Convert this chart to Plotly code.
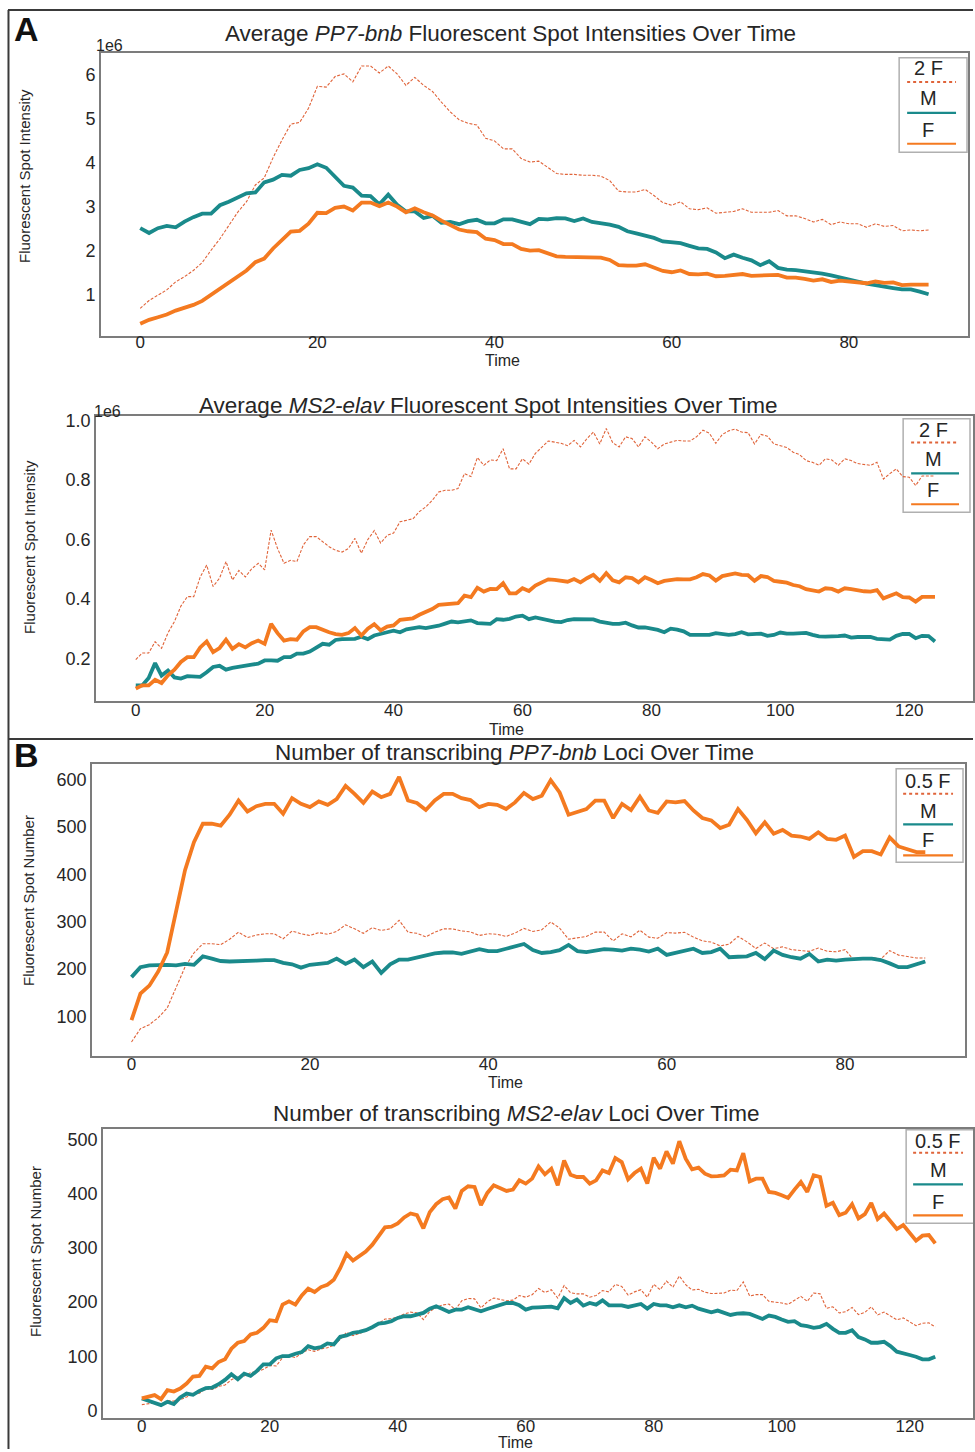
import plotly.graph_objects as go

W, H = 975, 1452

# ---------------- data ----------------
TIME_PP7 = list(range(90))
TIME_MS2 = list(range(125))

# Average PP7-bnb fluorescent spot intensity (units of 1e6)
PP7_INT_F = [0.35, 0.44, 0.50, 0.56, 0.65, 0.71, 0.78, 0.87, 1.01, 1.14,
             1.29, 1.44, 1.56, 1.75, 1.83, 2.06, 2.26, 2.44, 2.46, 2.62,
             2.87, 2.86, 2.98, 3.01, 2.92, 3.10, 3.10, 3.02, 3.10, 3.01,
             2.88, 2.97, 2.88, 2.81, 2.69, 2.58, 2.49, 2.45, 2.43, 2.28,
             2.25, 2.16, 2.16, 2.05, 2.01, 2.02, 1.95, 1.88, 1.87, 1.87,
             1.86, 1.86, 1.85, 1.80, 1.68, 1.67, 1.67, 1.70, 1.63, 1.55,
             1.52, 1.56, 1.48, 1.47, 1.49, 1.43, 1.44, 1.45, 1.48, 1.44,
             1.44, 1.44, 1.46, 1.40, 1.40, 1.37, 1.33, 1.36, 1.30, 1.33,
             1.31, 1.31, 1.27, 1.31, 1.28, 1.29, 1.23, 1.24, 1.23, 1.24]
PP7_INT_M = [2.52, 2.41, 2.52, 2.57, 2.54, 2.67, 2.77, 2.85, 2.85, 3.04,
             3.12, 3.22, 3.31, 3.33, 3.56, 3.62, 3.73, 3.71, 3.84, 3.88,
             3.97, 3.89, 3.69, 3.48, 3.44, 3.26, 3.25, 3.06, 3.28, 3.05,
             2.90, 2.90, 2.75, 2.80, 2.64, 2.66, 2.61, 2.68, 2.71, 2.63,
             2.63, 2.72, 2.72, 2.67, 2.61, 2.73, 2.72, 2.75, 2.74, 2.68,
             2.74, 2.66, 2.64, 2.60, 2.55, 2.45, 2.40, 2.35, 2.30, 2.22,
             2.19, 2.18, 2.12, 2.06, 2.05, 1.97, 1.84, 1.92, 1.85, 1.79,
             1.68, 1.77, 1.62, 1.58, 1.57, 1.55, 1.53, 1.49, 1.45, 1.41,
             1.37, 1.31, 1.26, 1.22, 1.19, 1.16, 1.13, 1.13, 1.08, 1.02]

# Average MS2-elav fluorescent spot intensity (units of 1e6)
MS2_INT_F = [0.098, 0.109, 0.109, 0.128, 0.117, 0.143, 0.162, 0.188, 0.204, 0.204,
             0.237, 0.257, 0.221, 0.235, 0.263, 0.232, 0.248, 0.237, 0.251, 0.260,
             0.249, 0.316, 0.285, 0.260, 0.265, 0.263, 0.291, 0.305, 0.305, 0.296,
             0.288, 0.282, 0.279, 0.285, 0.302, 0.277, 0.300, 0.315, 0.294, 0.307,
             0.311, 0.330, 0.333, 0.335, 0.347, 0.355, 0.366, 0.380, 0.383, 0.383,
             0.386, 0.411, 0.406, 0.438, 0.425, 0.434, 0.433, 0.453, 0.419, 0.419,
             0.436, 0.427, 0.445,
             0.456, 0.466, 0.464, 0.462, 0.458, 0.467, 0.456, 0.470, 0.481, 0.461,
             0.487, 0.463, 0.456, 0.473, 0.470, 0.456, 0.473, 0.464, 0.453, 0.461,
             0.464, 0.467, 0.466, 0.466, 0.473, 0.484, 0.479, 0.462, 0.477, 0.483,
             0.486, 0.481, 0.480, 0.461, 0.477, 0.474, 0.461, 0.458, 0.455, 0.447,
             0.443, 0.433, 0.430, 0.425, 0.436, 0.434, 0.425, 0.436, 0.433, 0.428,
             0.426, 0.425, 0.430, 0.402, 0.411, 0.419, 0.406, 0.405, 0.391, 0.407,
             0.407, 0.407]
MS2_INT_M = [0.109, 0.109, 0.134, 0.184, 0.142, 0.159, 0.136, 0.132, 0.140, 0.138,
             0.138, 0.153, 0.171, 0.175, 0.162, 0.168, 0.172, 0.178, 0.179, 0.182,
             0.193, 0.193, 0.192, 0.204, 0.204, 0.216, 0.216, 0.223, 0.235, 0.249,
             0.246, 0.262, 0.265, 0.265, 0.266, 0.273, 0.265, 0.277, 0.284, 0.288,
             0.293, 0.288, 0.298, 0.301, 0.305, 0.302, 0.305, 0.310, 0.317, 0.324,
             0.321, 0.324, 0.328, 0.319, 0.316, 0.316, 0.332, 0.330, 0.333, 0.341,
             0.344, 0.332, 0.338,
             0.333, 0.329, 0.324, 0.322, 0.329, 0.332, 0.332, 0.332, 0.331, 0.324,
             0.319, 0.316, 0.316, 0.320, 0.311, 0.304, 0.304, 0.300, 0.296, 0.288,
             0.300, 0.297, 0.291, 0.279, 0.279, 0.279, 0.279, 0.285, 0.283, 0.279,
             0.282, 0.288, 0.281, 0.282, 0.283, 0.276, 0.279, 0.287, 0.283, 0.283,
             0.286, 0.286, 0.279, 0.274, 0.273, 0.273, 0.275, 0.277, 0.270, 0.272,
             0.273, 0.272, 0.266, 0.265, 0.263, 0.276, 0.282, 0.282, 0.268, 0.276,
             0.275, 0.257]

# Number of transcribing PP7-bnb loci
PP7_NUM_F = [92, 148, 165, 195, 235, 325, 409, 468, 507, 507,
             503, 526, 556, 533, 544, 549, 549, 528, 561, 549,
             542, 554, 547, 559, 587, 570, 551, 575, 563, 570,
             606, 556, 551, 536, 556, 570, 570, 561, 557, 542,
             549, 547, 538, 552, 572, 559, 566, 599, 573, 526,
             532, 538, 556, 556, 519, 549, 536, 564, 535, 530,
             554, 552, 555, 535, 519, 514, 498, 505, 538, 515,
             487, 510, 486, 494, 482, 480, 475, 489, 475, 473,
             482, 437, 449, 449, 442, 478, 459, 453, 447, 447]
PP7_NUM_M = [183, 204, 208, 209, 209, 208, 211, 209, 227, 222,
             217, 216, 216, 218, 218, 219, 219, 213, 210, 203,
             209, 211, 213, 222, 211, 220, 204, 216, 192, 210,
             220, 220, 225, 229, 233, 235, 235, 232, 237, 242,
             238, 238, 243, 248, 253, 240, 234, 236, 240, 251,
             238, 236, 240, 242, 241, 239, 243, 241, 237, 243,
             230, 234, 237, 243, 234, 236, 243, 225, 226, 227,
             234, 221, 239, 230, 225, 222, 232, 216, 220, 218,
             220, 222, 222, 222, 219, 212, 204, 204, 209, 216]

# Number of transcribing MS2-elav loci
MS2_NUM_F = [22.6, 26.3, 28.7, 21.4, 37.9, 35.4, 40.9, 50.1, 62.9, 64.1,
             81.2, 78.1, 89.7, 94.6, 114.2, 125.2, 128.2, 140.4, 143.5, 152.6,
             166.7, 164.8, 195.4, 201.5, 195.4, 212.5, 224.7, 218.6, 227.7, 232.0,
             241.1, 262.5, 288.8, 276.6, 285.7, 293.0, 305.3, 320.5, 337.6, 338.8,
             344.9, 355.9, 363.2, 360.2, 335.8, 365.7, 380.3, 389.5, 392.6, 372.4,
             404.8, 413.3, 412.1, 378.5, 401.1, 415.1, 409.0, 404.8, 407.2, 424.3,
             418.2, 427.4, 450.0,
             435.3, 445.7, 415.1, 460.9, 434.7, 430.4, 430.4, 418.2, 424.3, 442.6,
             437.7, 465.2, 457.9, 426.1, 437.7, 445.7, 418.2, 465.8, 445.7, 477.4,
             454.8, 496.3, 464.0, 444.4, 447.5, 436.5, 431.6, 432.2, 433.5, 443.8,
             442.6, 474.4, 422.5, 427.4, 427.4, 402.9, 401.1, 396.8, 391.9, 407.2,
             421.2, 402.9, 433.5, 430.4, 377.3, 382.8, 360.2, 364.5, 380.3, 354.1,
             362.0, 382.8, 352.9, 363.2, 349.2, 334.6, 341.9, 327.8, 313.2, 322.3,
             323.6, 308.3]
MS2_NUM_M = [22.6, 18.3, 14.0, 10.4, 16.5, 12.2, 24.4, 31.7, 29.3, 36.6,
             41.5, 42.7, 48.8, 56.8, 67.2, 58.0, 68.4, 64.1, 73.3, 85.5,
             85.5, 96.5, 100.7, 100.7, 105.0, 108.1, 119.0, 114.8, 117.2, 123.9,
             122.1, 136.1, 138.6, 143.5, 145.3, 148.4, 153.8, 160.6, 161.8, 164.8,
             170.9, 174.0, 174.0, 177.0, 180.1, 188.0, 192.3, 187.4, 181.9, 186.2,
             186.2, 190.5, 187.4, 183.2, 187.4, 190.5, 195.4, 198.4, 198.4, 194.1,
             186.2, 189.9, 190.5,
             191.1, 191.7, 188.6, 207.6, 198.4, 204.5, 193.5, 198.4, 195.4, 203.3,
             194.1, 194.1, 194.1, 191.1, 193.5, 196.6, 188.0, 196.6, 194.1, 194.1,
             190.5, 194.1, 190.5, 193.5, 188.0, 185.0, 181.3, 184.4, 180.1, 176.4,
             178.9, 179.5, 178.3, 174.0, 169.1, 175.2, 172.8, 167.9, 163.6, 164.8,
             157.5, 155.7, 152.6, 154.5, 160.0, 150.8, 143.5, 143.5, 148.4, 135.5,
             131.3, 125.2, 125.2, 127.0, 119.0, 108.7, 105.0, 102.6, 99.5, 94.6,
             94.6, 99.5]

# scaled-F comparison series, as named in each legend ("2 F", "0.5 F")
SCALE_INT = 2.0
SCALE_NUM = 0.5

TITLES = ["Average <i>PP7-bnb</i> Fluorescent Spot Intensities Over Time",
          "Average <i>MS2-elav</i> Fluorescent Spot Intensities Over Time",
          "Number of transcribing <i>PP7-bnb</i> Loci Over Time",
          "Number of transcribing <i>MS2-elav</i> Loci Over Time"]
Y_LABELS = ["Fluorescent Spot Intensity", "Fluorescent Spot Intensity",
            "Fluorescent Spot Number", "Fluorescent Spot Number"]
X_LABEL = "Time"
LEGEND_LABELS = [["2 F", "M", "F"], ["2 F", "M", "F"],
                 ["0.5 F", "M", "F"], ["0.5 F", "M", "F"]]

# ---------------- styling ----------------
TEAL = "#1a8a8b"
ORANGE = "#f47a20"
DOTC = "#e0643a"
FONT = "Liberation Sans, Arial, Helvetica, sans-serif"
TXT = "#262626"
SPINE = "#7c7c7c"


def pxx(x):
    return x / W


def pxy(y):
    return 1 - y / H


panels = [
    dict(t=TIME_PP7, F=PP7_INT_F, M=PP7_INT_M, s=SCALE_INT,
         box=(101, 48, 970, 333), xr=[-4.45, 93.45], yr=[0.07, 6.5],
         xt=[0, 20, 40, 60, 80], yt=[1, 2, 3, 4, 5, 6], ytt=None, so=-10,
         title_xy=(512, 29), xlab_xy=(504, 357), ylab_xy=(24, 172), off_xy=(110, 41),
         leg=(901, 53, 969, 148), leg_cx=930, leg_rows=[63.5, 77.5, 93.5, 108.5, 125.5, 139.5], leg_line=(909, 958)),
    dict(t=TIME_MS2, F=MS2_INT_F, M=MS2_INT_M, s=SCALE_INT,
         box=(96, 413, 975, 700), xr=[-6.2, 129.9], yr=[0.056, 1.017],
         xt=[0, 20, 40, 60, 80, 100, 120], yt=[0.2, 0.4, 0.6, 0.8, 1.0],
         ytt=["0.2", "0.4", "0.6", "0.8", "1.0"], so=-7,
         title_xy=(490, 403), xlab_xy=(508, 729), ylab_xy=(30, 545), off_xy=(108, 409),
         leg=(905, 416, 972, 510), leg_cx=935, leg_rows=[427, 440, 457, 471, 488, 502], leg_line=(913, 961)),
    dict(t=TIME_PP7, F=PP7_NUM_F, M=PP7_NUM_M, s=SCALE_NUM,
         box=(92, 763, 967, 1057), xr=[-4.45, 93.45], yr=[16, 633.6],
         xt=[0, 20, 40, 60, 80], yt=[100, 200, 300, 400, 500, 600], ytt=None, so=-8,
         title_xy=(516, 752), xlab_xy=(507, 1083), ylab_xy=(28, 900), off_xy=None,
         leg=(898, 768, 965, 862), leg_cx=930, leg_rows=[780, 793, 810, 824, 840, 855], leg_line=(905, 955)),
    dict(t=TIME_MS2, F=MS2_NUM_F, M=MS2_NUM_M, s=SCALE_NUM,
         box=(103, 1130, 975, 1421), xr=[-6.1, 129.9], yr=[-13.7, 519.2],
         xt=[0, 20, 40, 60, 80, 100, 120], yt=[0, 100, 200, 300, 400, 500], ytt=None, so=-8,
         title_xy=(517, 1115), xlab_xy=(517, 1445), ylab_xy=(35, 1253), off_xy=None,
         leg=(908, 1131, 980, 1225), leg_cx=940, leg_rows=[1142, 1154, 1171, 1186, 1204, 1217], leg_line=(915, 965)),
]

fig = go.Figure()
shapes = []
annotations = []
layout_axes = {}

for k, p in enumerate(panels, start=1):
    xa = "x" if k == 1 else f"x{k}"
    ya = "y" if k == 1 else f"y{k}"
    scaled = [p["s"] * v for v in p["F"]]
    fig.add_trace(go.Scatter(x=p["t"], y=scaled, mode="lines", xaxis=xa, yaxis=ya,
                             line=dict(color=DOTC, width=1.1, dash="3px,1.6px"),
                             showlegend=False, hoverinfo="skip"))
    fig.add_trace(go.Scatter(x=p["t"], y=p["M"], mode="lines", xaxis=xa, yaxis=ya,
                             line=dict(color=TEAL, width=3.8),
                             showlegend=False, hoverinfo="skip"))
    fig.add_trace(go.Scatter(x=p["t"], y=p["F"], mode="lines", xaxis=xa, yaxis=ya,
                             line=dict(color=ORANGE, width=3.8),
                             showlegend=False, hoverinfo="skip"))

    l, t, r, b = p["box"]
    xkey = "xaxis" if k == 1 else f"xaxis{k}"
    ykey = "yaxis" if k == 1 else f"yaxis{k}"
    layout_axes[xkey] = dict(domain=[pxx(l), min(pxx(r), 1.0)], range=p["xr"], anchor=ya,
                             tickvals=p["xt"], ticks="", showgrid=False, zeroline=False,
                             showline=True, mirror=True, linecolor=SPINE, linewidth=1.5,
                             ticklabelstandoff=p["so"],
                             tickfont=dict(family=FONT, size=17, color=TXT))
    ydict = dict(domain=[pxy(b), pxy(t)], range=p["yr"], anchor=xa,
                 tickvals=p["yt"], ticks="", showgrid=False, zeroline=False,
                 showline=True, mirror=True, linecolor=SPINE, linewidth=1.5,
                 tickfont=dict(family=FONT, size=18, color=TXT))
    if p["ytt"]:
        ydict["ticktext"] = p["ytt"]
    layout_axes[ykey] = ydict

    # titles and axis labels
    annotations.append(dict(text=TITLES[k - 1], x=pxx(p["title_xy"][0]), y=pxy(p["title_xy"][1]),
                            xref="paper", yref="paper", showarrow=False, xanchor="center", yanchor="middle",
                            font=dict(family=FONT, size=22.5, color=TXT)))
    annotations.append(dict(text=X_LABEL, x=pxx(p["xlab_xy"][0]), y=pxy(p["xlab_xy"][1]),
                            xref="paper", yref="paper", showarrow=False, xanchor="center", yanchor="middle",
                            font=dict(family=FONT, size=16, color=TXT)))
    annotations.append(dict(text=Y_LABELS[k - 1], x=pxx(p["ylab_xy"][0]), y=pxy(p["ylab_xy"][1]),
                            xref="paper", yref="paper", showarrow=False, xanchor="center", yanchor="middle",
                            textangle=-90, font=dict(family=FONT, size=15, color=TXT)))
    if p["off_xy"]:
        annotations.append(dict(text="1e6", x=pxx(p["off_xy"][0]), y=pxy(p["off_xy"][1]),
                                xref="paper", yref="paper", showarrow=False, xanchor="center", yanchor="middle",
                                font=dict(family=FONT, size=16, color=TXT)))

    # legend box (drawn manually: label above its line sample)
    lx0, ly0, lx1, ly1 = p["leg"]
    shapes.append(dict(type="rect", xref="paper", yref="paper", layer="below",
                       x0=pxx(lx0), x1=pxx(lx1), y0=pxy(ly1), y1=pxy(ly0),
                       line=dict(color="#b0b0b0", width=1.5), fillcolor="white"))
    rows = p["leg_rows"]
    labs = LEGEND_LABELS[k - 1]
    styles = [dict(color=DOTC, width=2, dash="dot"), dict(color=TEAL, width=2.2), dict(color=ORANGE, width=2.2)]
    for j in range(3):
        annotations.append(dict(text=labs[j], x=pxx(p["leg_cx"]), y=pxy(rows[2 * j]),
                                xref="paper", yref="paper", showarrow=False, xanchor="center", yanchor="middle",
                                font=dict(family=FONT, size=20, color=TXT)))
        shapes.append(dict(type="line", xref="paper", yref="paper", layer="above",
                           x0=pxx(p["leg_line"][0]), x1=pxx(p["leg_line"][1]),
                           y0=pxy(rows[2 * j + 1]), y1=pxy(rows[2 * j + 1]), line=styles[j]))

# figure frame and panel letters
FRAME = dict(color="#3a3a3a", width=2)
shapes.append(dict(type="line", xref="paper", yref="paper", x0=pxx(8.5), x1=pxx(8.5), y0=pxy(5), y1=0, line=FRAME))
shapes.append(dict(type="line", xref="paper", yref="paper", x0=pxx(8), x1=1, y0=pxy(5), y1=pxy(5), line=FRAME))
shapes.append(dict(type="line", xref="paper", yref="paper", x0=pxx(8), x1=1, y0=pxy(738), y1=pxy(738), line=FRAME))
for letter, (lx, ly) in [("A", (27, 24)), ("B", (27, 754))]:
    annotations.append(dict(text=f"<b>{letter}</b>", x=pxx(lx), y=pxy(ly), xref="paper", yref="paper",
                            showarrow=False, xanchor="center", yanchor="middle",
                            font=dict(family=FONT, size=34, color="#111111")))

fig.update_layout(width=W, height=H, margin=dict(l=0, r=0, t=0, b=0),
                  paper_bgcolor="white", plot_bgcolor="white", showlegend=False,
                  shapes=shapes, annotations=annotations, **layout_axes)

fig.write_html("out.html")
